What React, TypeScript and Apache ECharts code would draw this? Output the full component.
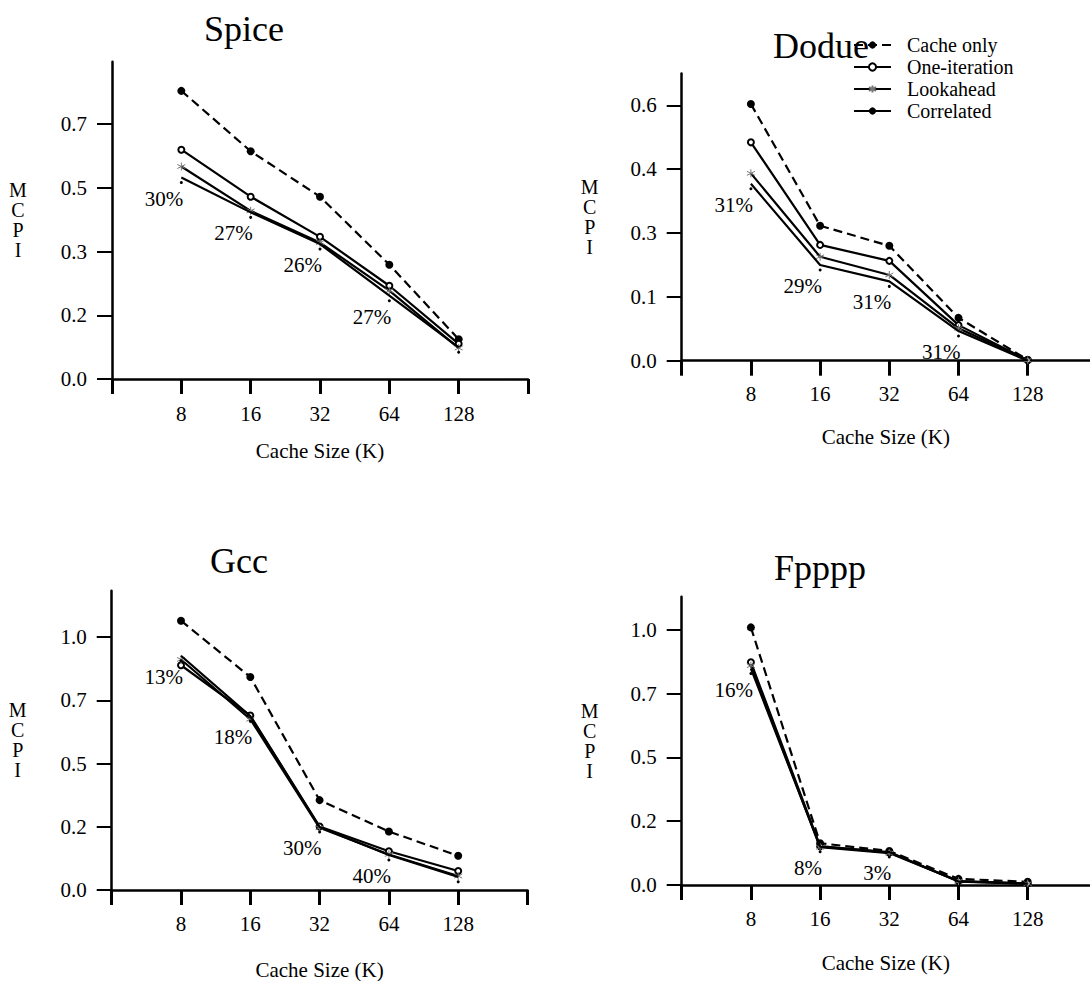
import React, { useEffect, useRef } from "react";
import * as echarts from "echarts";

// Cache sizes (K) along each x axis
const cacheSizes = ["8", "16", "32", "64", "128"];
const seriesNames = ["Cache only", "One-iteration", "Lookahead", "Correlated"];

// Spice
const spiceCacheOnly = [0.754, 0.596, 0.477, 0.299, 0.104];
const spiceOneIteration = [0.6, 0.477, 0.372, 0.244, 0.092];
const spiceLookahead = [0.556, 0.44, 0.357, 0.231, 0.081];
const spiceCorrelated = [0.527, 0.436, 0.353, 0.218, 0.083];
const spiceSavings = ["30%", "27%", "26%", "27%"];

// Dodue
const doducCacheOnly = [0.563, 0.296, 0.252, 0.094, 0.002];
const doducOneIteration = [0.479, 0.254, 0.219, 0.078, 0.001];
const doducLookahead = [0.411, 0.228, 0.188, 0.071, 0.001];
const doducCorrelated = [0.388, 0.21, 0.174, 0.065, 0.0];
const doducSavings = ["31%", "29%", "31%", "31%"];

// Gcc
const gccCacheOnly = [1.022, 0.8085, 0.341, 0.222, 0.13];
const gccOneIteration = [0.853, 0.662, 0.241, 0.147, 0.072];
const gccLookahead = [0.875, 0.648, 0.236, 0.135, 0.053];
const gccCorrelated = [0.889, 0.66, 0.239, 0.133, 0.05];
const gccSavings = ["13%", "18%", "30%", "40%"];

// Fpppp
const fppppCacheOnly = [0.969, 0.157, 0.128, 0.023, 0.012];
const fppppOneIteration = [0.838, 0.146, 0.122, 0.015, 0.006];
const fppppLookahead = [0.825, 0.142, 0.12, 0.014, 0.005];
const fppppCorrelated = [0.814, 0.144, 0.124, 0.013, 0.005];
const fppppSavings = ["16%", "8%", "3%"];

// y tick steps (labels are printed to one decimal)
const spiceStep = 1 / 6;
const doducStep = 0.14;
const gccStep = 0.24;
const fppppStep = 0.24;

const FONT = "Liberation Serif";

const ASTERISK = "path://M5,0L5,10M0.7,2.5L9.3,7.5M0.7,7.5L9.3,2.5";

type Panel = {
  title: string;
  values: number[][];
  savings: string[];
  step: number;
  yMax: number;
  xMax: number;
  // layout
  left: number;
  top: number;
  width: number;
  height: number;
  titleX: number;
  titleY: number;
  nameGap: number;
  xNameGap: number;
  xLabelMargin: number;
};

const panels: Panel[] = [
  {
    title: "Spice",
    values: [spiceCacheOnly, spiceOneIteration, spiceLookahead, spiceCorrelated],
    savings: spiceSavings,
    step: spiceStep,
    yMax: 0.83,
    xMax: 6,
    left: 112,
    top: 61.8,
    width: 416,
    height: 317.2,
    titleX: 244,
    titleY: 29,
    nameGap: 94,
    xNameGap: 61,
    xLabelMargin: 24,
  },
  {
    title: "Dodue",
    values: [doducCacheOnly, doducOneIteration, doducLookahead, doducCorrelated],
    savings: doducSavings,
    step: doducStep,
    yMax: 0.63,
    xMax: 5.9,
    left: 681.7,
    top: 73.5,
    width: 408.3,
    height: 287.2,
    titleX: 821,
    titleY: 46,
    nameGap: 92,
    xNameGap: 66,
    xLabelMargin: 23,
  },
  {
    title: "Gcc",
    values: [gccCacheOnly, gccOneIteration, gccLookahead, gccCorrelated],
    savings: gccSavings,
    step: gccStep,
    yMax: 1.136,
    xMax: 6,
    left: 111.7,
    top: 590.7,
    width: 415.8,
    height: 301.6,
    titleX: 239,
    titleY: 560.5,
    nameGap: 94,
    xNameGap: 69,
    xLabelMargin: 23,
  },
  {
    title: "Fpppp",
    values: [fppppCacheOnly, fppppOneIteration, fppppLookahead, fppppCorrelated],
    savings: fppppSavings,
    step: fppppStep,
    yMax: 1.0845,
    xMax: 5.9,
    left: 681.7,
    top: 596.7,
    width: 408.3,
    height: 288.3,
    titleX: 820,
    titleY: 567.5,
    nameGap: 92,
    xNameGap: 67.5,
    xLabelMargin: 23,
  },
];

const seriesStyles: any[] = [
  {
    symbol: "circle",
    symbolSize: 8,
    itemStyle: { color: "#000" },
    lineStyle: { color: "#000", width: 2.2, type: [9, 5] },
  },
  {
    symbol: "emptyCircle",
    symbolSize: 6,
    itemStyle: { color: "#000", borderColor: "#000", borderWidth: 1 },
    lineStyle: { color: "#000", width: 2.2 },
  },
  {
    symbol: ASTERISK,
    symbolSize: 8,
    itemStyle: { color: "#777", borderColor: "#777", borderWidth: 1 },
    lineStyle: { color: "#000", width: 2.2 },
  },
  {
    symbol: "circle",
    symbolSize: 3,
    symbolOffset: [0, 5],
    itemStyle: { color: "#000" },
    lineStyle: { color: "#000", width: 2.2 },
  },
];

function buildOption() {
  const grid: any[] = [];
  const xAxis: any[] = [];
  const yAxis: any[] = [];
  const series: any[] = [];
  const graphic: any[] = [];

  panels.forEach((p, gi) => {
    grid.push({ left: p.left, top: p.top, width: p.width, height: p.height, containLabel: false });

    const xTicks = Array.from({ length: Math.floor(p.xMax) + 1 }, (_, k) => k);
    xAxis.push({
      gridIndex: gi,
      type: "value",
      min: 0,
      max: p.xMax,
      name: "Cache Size (K)",
      nameLocation: "middle",
      nameGap: p.xNameGap,
      nameTextStyle: { fontFamily: FONT, fontSize: 21, color: "#000" },
      axisLine: { show: true, onZero: false, lineStyle: { color: "#000", width: 2.5 } },
      axisTick: {
        show: true,
        length: 15,
        customValues: xTicks,
        lineStyle: { color: "#000", width: 3 },
      },
      axisLabel: {
        customValues: cacheSizes.map((_, i) => i + 1),
        formatter: (v: number) => cacheSizes[Math.round(v) - 1] ?? "",
        fontFamily: FONT,
        fontSize: 21,
        color: "#000",
        margin: p.xLabelMargin,
      },
      splitLine: { show: false },
    });

    const yTickCount = Math.floor(p.yMax / p.step + 1e-9) + 1;
    const yTicks = Array.from({ length: yTickCount }, (_, k) => k * p.step);
    yAxis.push({
      gridIndex: gi,
      type: "value",
      min: 0,
      max: p.yMax,
      name: "M\nC\nP\nI",
      nameLocation: "middle",
      nameGap: p.nameGap,
      nameRotate: 0,
      nameTextStyle: {
        fontFamily: FONT,
        fontSize: 20,
        lineHeight: 20,
        color: "#000",
        align: "center",
        verticalAlign: "middle",
      },
      axisLine: { show: true, onZero: false, lineStyle: { color: "#000", width: 2.5 } },
      axisTick: {
        show: true,
        length: 15,
        customValues: yTicks,
        lineStyle: { color: "#000", width: 2 },
      },
      axisLabel: {
        customValues: yTicks,
        formatter: (v: number) => v.toFixed(1),
        fontFamily: FONT,
        fontSize: 21,
        color: "#000",
        margin: 25,
      },
      splitLine: { show: false },
    });

    p.values.forEach((vals, si) => {
      series.push({
        name: seriesNames[si],
        type: "line",
        xAxisIndex: gi,
        yAxisIndex: gi,
        data: vals.map((v, i) => [i + 1, v]),
        showSymbol: true,
        z: 3 + si,
        ...seriesStyles[si],
      });
    });

    // savings of Correlated over Cache only, printed under each point
    const corr = p.values[3];
    series.push({
      type: "scatter",
      xAxisIndex: gi,
      yAxisIndex: gi,
      symbolSize: 1,
      itemStyle: { color: "rgba(0,0,0,0)" },
      silent: true,
      z: 10,
      data: p.savings.map((_, i) => [i + 1, corr[i]]),
      label: {
        show: true,
        position: "inside",
        align: "right",
        verticalAlign: "middle",
        offset: [2, 21],
        formatter: (prm: any) => p.savings[prm.dataIndex],
        fontFamily: FONT,
        fontSize: 21,
        color: "#000",
        opacity: 1,
      },
    });

    graphic.push({
      type: "text",
      x: p.titleX,
      y: p.titleY,
      z: 100,
      style: {
        text: p.title,
        fontFamily: FONT,
        fontSize: 36,
        fill: "#000",
        textAlign: "center",
        textVerticalAlign: "middle",
      },
    });
  });

  return {
    animation: false,
    backgroundColor: "#fff",
    textStyle: { fontFamily: FONT },
    grid,
    xAxis,
    yAxis,
    series,
    graphic,
    legend: {
      data: seriesNames,
      orient: "vertical",
      left: 853,
      top: 35,
      itemWidth: 37,
      itemHeight: 9,
      itemGap: 2,
      padding: 0,
      selectedMode: false,
      textStyle: {
        fontFamily: FONT,
        fontSize: 20,
        lineHeight: 20,
        color: "#000",
        padding: [0, 0, 0, 11],
      },
    },
  };
}

export default function App() {
  const ref = useRef<HTMLDivElement>(null);
  useEffect(() => {
    if (!ref.current) return;
    const chart = echarts.init(ref.current, undefined, { renderer: "svg" });
    chart.setOption(buildOption() as any);
    return () => chart.dispose();
  }, []);
  return (
    <div
      ref={ref}
      style={{ position: "absolute", left: 0, top: 0, width: 1090, height: 981, background: "#fff" }}
    />
  );
}
